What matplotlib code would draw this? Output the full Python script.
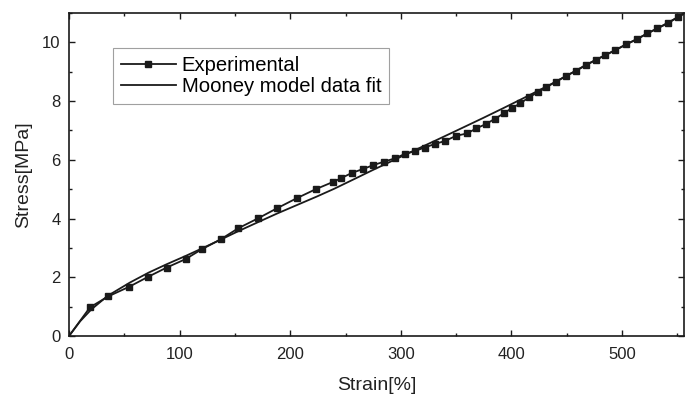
import matplotlib
matplotlib.use("Agg")
import matplotlib.pyplot as plt
from matplotlib.ticker import MultipleLocator

plt.rcParams['font.family'] = ['Liberation Sans', 'DejaVu Sans']

# Experimental data (strain %, stress MPa)
exp_strain = [0, 19, 35.5, 54.5, 71.7, 88.2, 105.4, 119.8, 137, 153, 171, 188,
              205.7, 223, 238.8, 245.7, 256, 266, 275, 285, 294.5, 303.5, 312.5,
              321.6, 330.6, 339.7, 350, 360, 368, 377, 385, 393, 400.5, 408,
              416, 424, 431.5, 440, 449, 458, 467, 476, 485, 494, 503.8, 513.7,
              522.7, 532, 541.4, 551]
exp_stress = [0, 0.98, 1.35, 1.68, 2.02, 2.33, 2.62, 2.95, 3.29, 3.67, 4.01, 4.35,
              4.69, 5.0, 5.25, 5.37, 5.56, 5.69, 5.82, 5.94, 6.05, 6.2, 6.3,
              6.42, 6.54, 6.64, 6.82, 6.9, 7.07, 7.22, 7.4, 7.58, 7.77, 7.92,
              8.14, 8.3, 8.47, 8.66, 8.85, 9.03, 9.23, 9.4, 9.57, 9.74, 9.94, 10.11,
              10.31, 10.48, 10.65, 10.88]

# Mooney model fit
fit_strain = [0, 10, 20, 35, 55, 72, 88, 105, 120, 137, 153, 171, 188, 206, 224,
              240, 257, 275, 293, 302, 320, 332, 350, 374, 392, 407, 415, 440,
              458, 476, 494, 513, 532, 550, 556]
fit_stress = [0, 0.5, 0.9, 1.37, 1.82, 2.16, 2.44, 2.72, 2.98, 3.28, 3.57, 3.88,
              4.17, 4.46, 4.75, 5.02, 5.33, 5.66, 5.98, 6.14, 6.46, 6.67, 6.99,
              7.42, 7.75, 8.03, 8.18, 8.66, 9.03, 9.4, 9.74, 10.11, 10.48, 10.85, 10.97]

fig = plt.figure(figsize=(6.91, 3.96), dpi=100)
ax = fig.add_axes([0.0999, 0.1515, 0.8900, 0.8155])

col = '#1a1a1a'
ax.plot(exp_strain, exp_stress, '-', color=col, lw=1.3, marker='s', ms=3.7,
        markevery=slice(1, None), label='Experimental')
ax.plot(fit_strain, fit_stress, '-', color=col, lw=1.3, label='Mooney model data fit')

ax.set_xlim(0, 556)
ax.set_ylim(0, 11)
ax.xaxis.set_major_locator(MultipleLocator(100))
ax.xaxis.set_minor_locator(MultipleLocator(50))
ax.yaxis.set_major_locator(MultipleLocator(2))
ax.yaxis.set_minor_locator(MultipleLocator(1))

ax.tick_params(which='both', direction='in', top=True, right=True, colors=col,
               labelcolor='#222222', width=1.0)
ax.tick_params(which='major', length=4.5)
ax.tick_params(which='minor', length=2.5)
ax.tick_params(axis='x', which='major', labelsize=12, pad=8)
ax.tick_params(axis='y', which='major', labelsize=12, pad=6)
for s in ax.spines.values():
    s.set_linewidth(1.2)
    s.set_color(col)

ax.set_xlabel('Strain[%]', fontsize=14, color='#222222', labelpad=11)
ax.set_ylabel('Stress[MPa]', fontsize=14, color='#222222', labelpad=7)

leg = ax.legend(loc='upper left', bbox_to_anchor=(0.071, 0.893), fontsize=14.6,
                frameon=True, fancybox=False, edgecolor='#888888',
                handlelength=2.7, handletextpad=0.3, borderpad=0.4,
                labelspacing=0.12, borderaxespad=0)
leg.get_frame().set_linewidth(0.8)

fig.savefig('out.png', dpi=100)
